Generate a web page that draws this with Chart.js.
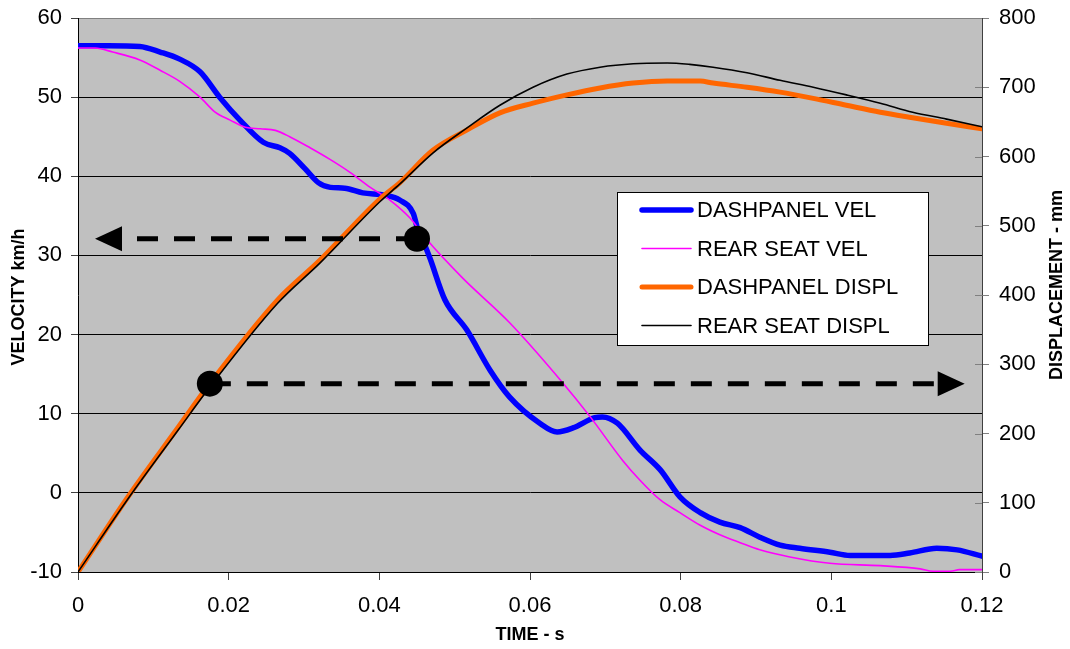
<!DOCTYPE html>
<html><head><meta charset="utf-8">
<script src="https://cdn.jsdelivr.net/npm/chart.js@4"></script>
<style>html,body{margin:0;padding:0;background:#fff}#wrap{width:1070px;height:649px}</style>
</head><body><div id="wrap"><canvas id="c" width="1070" height="649"></canvas></div>
<script>
// ---- data ----
const seriesLabels = ['DASHPANEL VEL', 'REAR SEAT VEL', 'DASHPANEL DISPL', 'REAR SEAT DISPL'];

const dashVelT = [0, 0.004, 0.0082, 0.0109, 0.0135, 0.0162, 0.0188, 0.0215, 0.0246, 0.0268, 0.0281, 0.0301, 0.0319, 0.0335, 0.0354, 0.0378, 0.0408, 0.0427, 0.0445, 0.0451, 0.0459, 0.0467, 0.0487, 0.0516, 0.0547, 0.0573, 0.0613, 0.0636, 0.0657, 0.0686, 0.0696, 0.0716, 0.0746, 0.0773, 0.0799, 0.0826, 0.0852, 0.0879, 0.0905, 0.0932, 0.0958, 0.0998, 0.1025, 0.1078, 0.1104, 0.114, 0.1167, 0.12];
const dashVelV = [56.5, 56.5, 56.4, 55.7, 54.8, 53.2, 50.0, 47.1, 44.3, 43.6, 42.9, 41.0, 39.2, 38.6, 38.5, 37.9, 37.6, 37.0, 35.3, 33.3, 31.6, 29.7, 24.4, 20.6, 15.5, 12.1, 8.8, 7.7, 8.2, 9.5, 9.6, 8.8, 5.4, 2.9, -0.5, -2.5, -3.7, -4.4, -5.6, -6.6, -7.0, -7.5, -7.9, -7.9, -7.6, -7.0, -7.2, -8.0];

const rearVelT = [0, 0.0023, 0.0046, 0.0082, 0.0109, 0.0135, 0.0162, 0.0182, 0.0202, 0.0222, 0.0242, 0.0262, 0.0281, 0.0308, 0.0335, 0.0361, 0.0388, 0.0414, 0.0441, 0.0463, 0.0511, 0.0573, 0.064, 0.068, 0.0723, 0.0746, 0.0773, 0.0799, 0.0826, 0.0852, 0.0879, 0.0905, 0.0945, 0.0998, 0.1065, 0.1118, 0.1135, 0.1158, 0.117, 0.12];
const rearVelV = [56.2, 56.2, 55.7, 54.7, 53.4, 52.0, 50.0, 48.1, 47.1, 46.2, 46.0, 45.8, 45.0, 43.6, 42.1, 40.5, 38.6, 37.0, 34.7, 32.0, 27.1, 21.5, 14.3, 9.6, 4.1, 1.6, -0.9, -2.5, -4.1, -5.3, -6.3, -7.2, -8.1, -8.9, -9.2, -9.6, -9.9, -9.9, -9.7, -9.7];

const dashDisplT = [0, 0.0066, 0.0133, 0.0175, 0.0265, 0.0321, 0.0401, 0.0427, 0.0471, 0.0516, 0.056, 0.0604, 0.0649, 0.0693, 0.0737, 0.0782, 0.0826, 0.0843, 0.0888, 0.0932, 0.0976, 0.102, 0.1065, 0.1108, 0.1153, 0.12];
const dashDisplD = [0, 108, 209, 272, 393, 450, 539, 562, 609, 638, 663, 677, 689, 699, 706, 709, 709, 706, 700, 693, 684, 674, 664, 656, 648, 640];

const rearDisplT = [0, 0.0066, 0.0133, 0.0175, 0.0265, 0.0321, 0.0401, 0.0427, 0.0471, 0.0516, 0.056, 0.0604, 0.0649, 0.0693, 0.0737, 0.0782, 0.0812, 0.0843, 0.0888, 0.0932, 0.0976, 0.102, 0.1065, 0.1108, 0.1153, 0.12];
const rearDisplD = [0, 105, 205, 267, 388, 446, 535, 560, 605, 641, 674, 700, 719, 729, 734, 735, 733, 729, 721, 710, 700, 689, 677, 664, 654, 643];

const timeTicks = [0, 0.02, 0.04, 0.06, 0.08, 0.1, 0.12];
const timeTickLabels = ['0', '0.02', '0.04', '0.06', '0.08', '0.1', '0.12'];
const velTicks = [-10, 0, 10, 20, 30, 40, 50, 60];
const displTicks = [0, 100, 200, 300, 400, 500, 600, 700, 800];

// annotation markers (data coordinates)
const velMarker = [0.045, 32.1];      // on dashpanel velocity, arrow to left axis
const velArrowTipT = 0.00226;
const displMarker = [0.0175, 272];    // on dashpanel displacement, arrow to right axis
const displArrowTipT = 0.1177;

const axisTitles = { y: 'VELOCITY km/h', y2: 'DISPLACEMENT - mm', x: 'TIME - s' };

// ---- rendering ----
const FONT = '"Liberation Sans", Arial, sans-serif';
const toXY = (ts, vs) => ts.map((t, i) => ({ x: t, y: vs[i] }));

const bgPlugin = {
  id: 'bg',
  beforeDraw(chart) {
    const { ctx, chartArea: a } = chart;
    ctx.save();
    ctx.fillStyle = '#C0C0C0';
    ctx.fillRect(a.left, a.top, a.right - a.left, a.bottom - a.top);
    ctx.restore();
  }
};

function drawArrowLine(ctx, x0, y, xTip, dir) {
  const headLen = 27, headHalf = 12.5;
  const xBase = xTip - dir * headLen;
  ctx.save();
  ctx.strokeStyle = '#000';
  ctx.lineWidth = 5;
  ctx.setLineDash([21, 16]);
  ctx.beginPath();
  ctx.moveTo(x0, y);
  ctx.lineTo(xBase, y);
  ctx.stroke();
  ctx.setLineDash([]);
  ctx.fillStyle = '#000';
  ctx.beginPath();
  ctx.moveTo(xTip, y);
  ctx.lineTo(xBase, y - headHalf);
  ctx.lineTo(xBase, y + headHalf);
  ctx.closePath();
  ctx.fill();
  ctx.beginPath();
  ctx.arc(x0, y, 13, 0, Math.PI * 2);
  ctx.fill();
  ctx.restore();
}

const overlayPlugin = {
  id: 'overlay',
  afterDraw(chart) {
    const { ctx, chartArea: a, scales } = chart;
    const sx = scales.x, sy = scales.y, sy2 = scales.y2;
    ctx.save();
    ctx.strokeStyle = '#808080';
    ctx.lineWidth = 1;
    displTicks.forEach(v => {
      const y = Math.round(sy2.getPixelForValue(v)) + 0.5;
      ctx.beginPath();
      ctx.moveTo(a.right - 7, y);
      ctx.lineTo(a.right, y);
      ctx.stroke();
    });

    const y1 = sy.getPixelForValue(velMarker[1]);
    drawArrowLine(ctx, sx.getPixelForValue(velMarker[0]), y1, sx.getPixelForValue(velArrowTipT), -1);
    const y2 = sy2.getPixelForValue(displMarker[1]);
    drawArrowLine(ctx, sx.getPixelForValue(displMarker[0]), y2, sx.getPixelForValue(displArrowTipT), 1);

    const lx = 617, ly = 192, lw = 311, lh = 153;
    ctx.fillStyle = '#fff';
    ctx.fillRect(lx, ly, lw, lh);
    ctx.strokeStyle = '#000';
    ctx.lineWidth = 1;
    ctx.strokeRect(lx + 0.5, ly + 0.5, lw, lh);
    ctx.font = '22px ' + FONT;
    ctx.textBaseline = 'middle';
    ctx.textAlign = 'left';
    chart.data.datasets.forEach((ds, i) => {
      const ry = ly + 18 + i * 38.5;
      ctx.strokeStyle = ds.borderColor;
      ctx.lineWidth = ds.borderWidth;
      ctx.lineCap = 'round';
      ctx.beginPath();
      ctx.moveTo(642, ry);
      ctx.lineTo(691, ry);
      ctx.stroke();
      ctx.fillStyle = '#000';
      ctx.fillText(ds.label, 697, ry + 1);
    });

    ctx.fillStyle = '#000';
    ctx.font = 'bold 18px ' + FONT;
    ctx.textAlign = 'center';
    ctx.textBaseline = 'middle';
    ctx.save();
    ctx.translate(19, 297);
    ctx.rotate(-Math.PI / 2);
    ctx.fillText(axisTitles.y, 0, 0);
    ctx.restore();
    ctx.save();
    ctx.translate(1057, 285);
    ctx.rotate(-Math.PI / 2);
    ctx.fillText(axisTitles.y2, 0, 0);
    ctx.restore();
    ctx.fillText(axisTitles.x, (a.left + a.right) / 2, 635);
    ctx.restore();
  }
};

const tickFont = { family: FONT, size: 22 };
const fitVertical = w => s => { s.width = w; s.paddingTop = 0; s.paddingBottom = 0; };

new Chart(document.getElementById('c'), {
  type: 'line',
  data: {
    datasets: [
      { label: seriesLabels[0], data: toXY(dashVelT, dashVelV), borderColor: '#0000FF', borderWidth: 5.5, yAxisID: 'y', order: 4 },
      { label: seriesLabels[1], data: toXY(rearVelT, rearVelV), borderColor: '#FF00FF', borderWidth: 1.6, yAxisID: 'y', order: 3 },
      { label: seriesLabels[2], data: toXY(dashDisplT, dashDisplD), borderColor: '#FF6600', borderWidth: 5, yAxisID: 'y2', order: 2 },
      { label: seriesLabels[3], data: toXY(rearDisplT, rearDisplD), borderColor: '#000000', borderWidth: 1.6, yAxisID: 'y2', order: 1 }
    ]
  },
  options: {
    responsive: false,
    animation: false,
    devicePixelRatio: 1,
    elements: {
      point: { radius: 0, hoverRadius: 0 },
      line: { cubicInterpolationMode: 'monotone', fill: false, borderCapStyle: 'round', borderJoinStyle: 'round' }
    },
    layout: { padding: { top: 18, left: 0, right: 0, bottom: 0 } },
    plugins: { legend: { display: false }, tooltip: { enabled: false } },
    scales: {
      x: {
        type: 'linear', min: 0, max: 0.12,
        afterBuildTicks: s => { s.ticks = timeTicks.map(v => ({ value: v })); },
        afterFit: s => { s.height = 77; s.paddingLeft = 0; s.paddingRight = 0; },
        grid: { drawOnChartArea: false, tickLength: 8, tickColor: '#404040' },
        border: { color: '#000', width: 1 },
        ticks: { callback: (v, i) => timeTickLabels[i], font: tickFont, color: '#000', padding: 13, maxRotation: 0, autoSkip: false }
      },
      y: {
        position: 'left', min: -10, max: 60,
        afterBuildTicks: s => { s.ticks = velTicks.map(v => ({ value: v })); },
        afterFit: fitVertical(78),
        grid: { color: c => (c.tick && c.tick.value === 60) ? '#808080' : '#000', tickLength: 7, tickColor: '#404040' },
        border: { color: '#000', width: 1 },
        ticks: { font: tickFont, color: '#000', padding: 9, autoSkip: false }
      },
      y2: {
        position: 'right', min: 0, max: 800,
        afterBuildTicks: s => { s.ticks = displTicks.map(v => ({ value: v })); },
        afterFit: fitVertical(88),
        grid: { drawOnChartArea: false, tickLength: 7, tickColor: '#808080' },
        border: { color: '#404040', width: 1 },
        ticks: { font: tickFont, color: '#000', padding: 10, autoSkip: false }
      }
    }
  },
  plugins: [bgPlugin, overlayPlugin]
});
</script>
</body></html>
